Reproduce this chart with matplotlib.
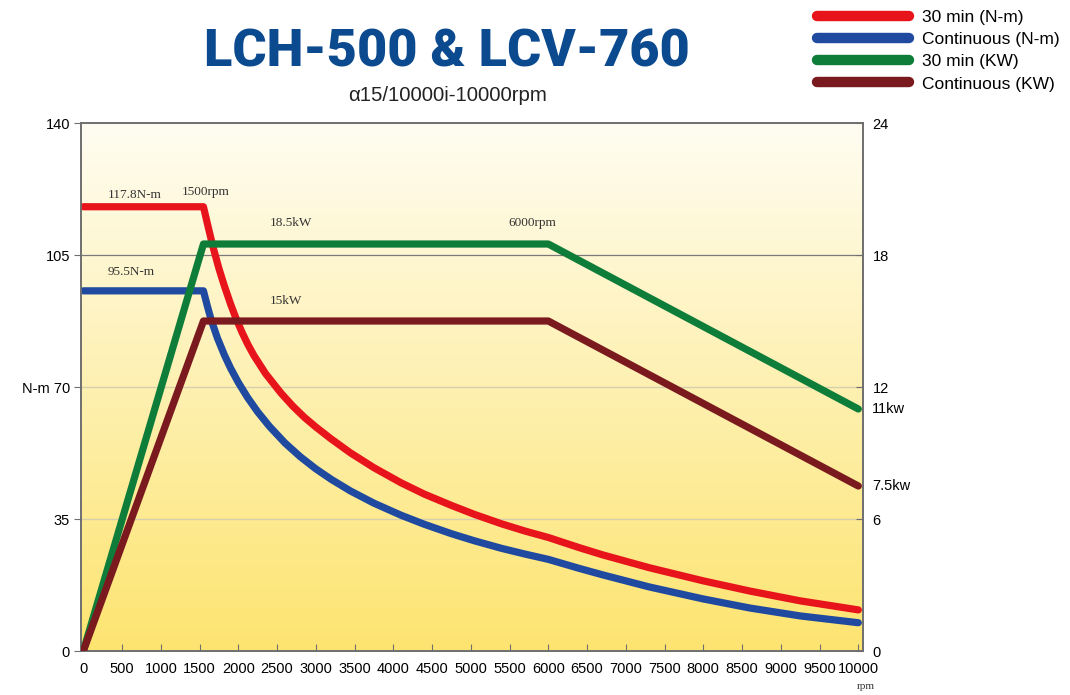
import matplotlib
matplotlib.use("Agg")
import matplotlib.pyplot as plt
import numpy as np

# ---- data ----
rpm_red = [0, 1550, 1600, 1670, 1750, 1820, 1900, 1970, 2050, 2120, 2200, 2350, 2550,
           2700, 2850, 3000, 3200, 3450, 3750, 4100, 4400, 4750, 5050, 5400, 5700,
           6000, 6400, 6700, 7300, 8000, 8600, 9250, 10000]
torque_30min = [117.8, 117.8, 113.4, 107.4, 101.4, 96.8, 92.0, 88.2, 84.4, 81.4, 78.4,
                73.6, 68.4, 65.0, 62.0, 59.4, 56.2, 52.5, 48.6, 44.6, 41.6, 38.6, 36.2,
                33.7, 31.8, 30.1, 27.4, 25.5, 22.1, 18.6, 15.9, 13.3, 10.9]
rpm_blue = [0, 1550, 1600, 1650, 1730, 1820, 1900, 2000, 2120, 2250, 2400, 2600, 2800,
            3000, 3200, 3450, 3750, 4100, 4400, 4750, 5050, 5400, 5700, 6000, 6400,
            6700, 7300, 8000, 8600, 9250, 10000]
torque_cont = [95.5, 95.5, 91.5, 87.8, 83.0, 78.5, 75.0, 71.2, 67.2, 63.4, 59.6, 55.2,
               51.5, 48.3, 45.5, 42.4, 39.2, 36.0, 33.6, 31.1, 29.2, 27.2, 25.7, 24.3,
               21.9, 20.2, 17.0, 13.8, 11.4, 9.3, 7.5]
rpm_pow = [0, 1550, 6000, 10000]
power_30min = [0, 18.5, 18.5, 11]
power_cont = [0, 15, 15, 7.5]

xticks = list(range(0, 10001, 500))
yticks_left = [0, 35, 70, 105, 140]
yticks_left_labels = ["0", "35", "N-m 70", "105", "140"]
yticks_right = [0, 6, 12, 18, 24]

title = "LCH-500 & LCV-760"
subtitle = "α15/10000i-10000rpm"
legend_labels = ["30 min (N-m)", "Continuous (N-m)", "30 min (KW)", "Continuous (KW)"]

c_red = "#e8141c"
c_blue = "#1f4aa0"
c_green = "#0f7d3a"
c_brown = "#7a1a1e"

plt.rcParams['font.family'] = ['Liberation Sans', 'DejaVu Sans']

fig = plt.figure(figsize=(10.7, 6.95), dpi=100)
ax = fig.add_axes([0.0757, 0.0633, 0.7308, 0.7597])
ax.set_xlim(-30, 10060)
ax.set_ylim(0, 140)

# gradient background
grad = np.linspace(0, 1, 256).reshape(-1, 1)
top = np.array([255, 253, 242]) / 255
bot = np.array([253, 228, 112]) / 255
img = top[None, None, :] * (1 - grad[:, :, None]) + bot[None, None, :] * grad[:, :, None]
ax.imshow(img, extent=[0, 1, 0, 1], transform=ax.transAxes, aspect='auto', zorder=0)

# grid lines
for v in [35, 70]:
    ax.axhline(v, color="#d6cfae", lw=1.0, zorder=1)
ax.axhline(105, color="#7a7a7a", lw=0.9, zorder=1)

lw = 5.2
l1, = ax.plot(rpm_red, torque_30min, color=c_red, lw=lw, solid_capstyle='round',
              solid_joinstyle='round', zorder=3)
l2, = ax.plot(rpm_blue, torque_cont, color=c_blue, lw=lw, solid_capstyle='round',
              solid_joinstyle='round', zorder=3)

ax2 = ax.twinx()
ax2.set_ylim(0, 24)
l3, = ax2.plot(rpm_pow, power_30min, color=c_green, lw=lw, solid_capstyle='round', zorder=3)
l4, = ax2.plot(rpm_pow, power_cont, color=c_brown, lw=lw, solid_capstyle='round', zorder=3)

for a in (ax, ax2):
    for s in a.spines.values():
        s.set_color("#6e6e6e")
        s.set_linewidth(1.2)

ax.set_xticks(xticks)
ax.set_xticklabels([str(t) for t in xticks], fontsize=10.5)
ax.tick_params(axis='x', direction='in', length=5, color="#6e6e6e", pad=8)
ax.set_yticks(yticks_left)
ax.set_yticklabels(yticks_left_labels, fontsize=10.5)
ax.tick_params(axis='y', direction='out', length=5, color="#6e6e6e", pad=3)
ax2.set_yticks(yticks_right)
ax2.set_yticklabels([str(t) for t in yticks_right], fontsize=10.5)
ax2.tick_params(axis='y', direction='in', length=5, color="#6e6e6e", pad=7)

# annotations
sf = dict(family=['Liberation Serif', 'DejaVu Serif'], fontsize=9.5, color="#333333")
ax.text(320, 120.2, "117.8N-m", **sf)
ax.text(1270, 121.0, "1500rpm", **sf)
ax.text(2400, 112.7, "18.5kW", **sf)
ax.text(5480, 112.7, "6000rpm", **sf)
ax.text(320, 99.7, "95.5N-m", **sf)
ax.text(2400, 92.0, "15kW", **sf)
ax.text(10100, -9.4, "rpm", family=['Liberation Serif', 'DejaVu Serif'], fontsize=8,
        color="#333333", ha='center', va='center', clip_on=False)

ax2.text(1.012, 11, "11kw", transform=ax2.get_yaxis_transform(), fontsize=10.5,
         va='center', ha='left', clip_on=False)
ax2.text(1.012, 7.5, "7.5kw", transform=ax2.get_yaxis_transform(), fontsize=10.5,
         va='center', ha='left', clip_on=False)

# title
fig.text(0.418, 0.924, title, fontsize=37.5, fontweight=900, color="#0b4a8e",
         ha='center', va='center', family=['Roboto', 'Liberation Sans', 'DejaVu Sans'])
fig.text(0.418, 0.863, subtitle, fontsize=14.7, ha='center', va='center', color="#222222")

leg = fig.legend([l1, l2, l3, l4], legend_labels, loc='upper left',
                 bbox_to_anchor=(0.7486, 1.008), frameon=False, fontsize=12.5,
                 handlelength=5.3, handletextpad=0.75, labelspacing=0.4)
for h in leg.get_lines():
    h.set_linewidth(7.5)
    h.set_solid_capstyle('round')

fig.savefig("out.png", dpi=100)
